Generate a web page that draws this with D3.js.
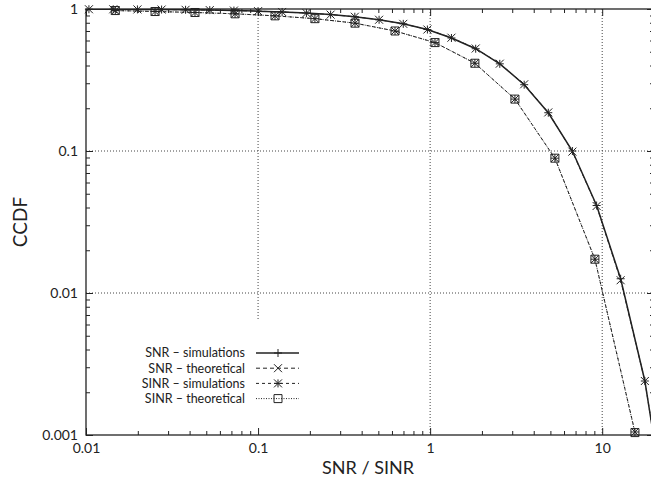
<!DOCTYPE html>
<html lang="en">
  <head>
    <meta charset="UTF-8" />
    <title>CCDF of SNR / SINR</title>
    <script src="https://d3js.org/d3.v7.min.js"></script>
    <style>
      body { margin: 0; background: #fff; }
      text { font-family: Lato, "Noto Sans", sans-serif; fill: #222; }
    </style>
  </head>
  <body>
    <svg id="chart" width="651" height="482"></svg>

    <script>
      // Data
      const snrX = [0.0104, 0.0144, 0.0199, 0.0275, 0.0379, 0.0524, 0.0724, 0.1, 0.138, 0.191,
        0.264, 0.365, 0.505, 0.698, 0.964, 1.33, 1.84, 2.54, 3.52, 4.86, 6.71, 9.28, 12.8, 17.7, 24.5];
      const snrSim = [0.996, 0.995, 0.993, 0.991, 0.987, 0.982, 0.975, 0.966, 0.953, 0.936,
        0.913, 0.882, 0.84, 0.786, 0.717, 0.625, 0.525, 0.411, 0.293, 0.186, 0.1, 0.0413, 0.0126, 0.0024, 0.0002];
      const snrTheo = [0.996, 0.995, 0.993, 0.991, 0.987, 0.982, 0.975, 0.966, 0.953, 0.936,
        0.913, 0.882, 0.84, 0.786, 0.717, 0.628, 0.527, 0.412, 0.295, 0.187, 0.099, 0.041, 0.0123, 0.0024, 0.0002];

      const sinrX = [0.0148, 0.0252, 0.043, 0.0735, 0.1255, 0.214, 0.366, 0.625, 1.067, 1.82, 3.11, 5.31, 9.07, 15.5];
      const sinrSim = [0.975, 0.96, 0.945, 0.925, 0.895, 0.855, 0.795, 0.7, 0.58, 0.415, 0.232, 0.089, 0.0173, 0.00105];
      const sinrTheo = [0.975, 0.96, 0.945, 0.925, 0.895, 0.855, 0.795, 0.7, 0.58, 0.415, 0.232, 0.089, 0.0173, 0.00104];

      const xTicks = [0.01, 0.1, 1, 10];
      const yTicks = [0.001, 0.01, 0.1, 1];

      const series = [
        { name: "SNR \u2013 simulations", xs: snrX, ys: snrSim, dash: null, width: 1.5, mark: "plus" },
        { name: "SNR \u2013 theoretical", xs: snrX, ys: snrTheo, dash: "4,3", width: 1, mark: "cross" },
        { name: "SINR \u2013 simulations", xs: sinrX, ys: sinrSim, dash: "3,3", width: 1, mark: "star" },
        { name: "SINR \u2013 theoretical", xs: sinrX, ys: sinrTheo, dash: "1,1.5", width: 1, mark: "box" },
      ];

      // Layout
      const pLeft = 86, pRight = 654, pTop = 9, pBottom = 435;

      const svg = d3.select("#chart");

      const x = d3.scaleLog().domain([0.01, 20]).range([pLeft, pRight]);
      const y = d3.scaleLog().domain([0.001, 1]).range([pBottom, pTop]);

      // minor tick values
      const minorX = [];
      [0.01, 0.1, 1, 10].forEach((d) => {
        for (let i = 2; i <= 9; i++) if (d * i <= 20) minorX.push(d * i);
      });
      const minorY = [];
      [0.001, 0.01, 0.1].forEach((d) => {
        for (let i = 2; i <= 9; i++) minorY.push(d * i);
      });

      svg.append("defs").append("clipPath").attr("id", "plotclip")
        .append("rect")
        .attr("x", pLeft).attr("y", pTop)
        .attr("width", pRight - pLeft).attr("height", pBottom - pTop);

      // Grid
      const grid = svg.append("g")
        .attr("stroke", "#444")
        .attr("stroke-width", 1)
        .attr("stroke-dasharray", "1,2");
      grid.selectAll(".gx")
        .data([0.1, 1, 10])
        .enter()
        .append("line")
        .attr("x1", (d) => x(d)).attr("x2", (d) => x(d))
        .attr("y1", pTop).attr("y2", pBottom);
      grid.selectAll(".gy")
        .data([0.01, 0.1])
        .enter()
        .append("line")
        .attr("x1", pLeft).attr("x2", pRight)
        .attr("y1", (d) => y(d)).attr("y2", (d) => y(d));

      // Legend background (opaque key)
      svg.append("rect")
        .attr("x", 95).attr("y", 320)
        .attr("width", 215).attr("height", 113)
        .attr("fill", "#fff");

      // Axes (ticks inward)
      const fmt = d3.format("~g");
      function noDomain(g) { g.select(".domain").remove(); g.selectAll("line").attr("stroke", "#222"); }

      svg.append("g").attr("transform", `translate(0,${pBottom})`)
        .call(d3.axisBottom(x).tickValues(xTicks).tickSizeInner(-7).tickSizeOuter(0).tickPadding(8).tickFormat(fmt))
        .call(noDomain)
        .selectAll("text").style("font-size", "14px").attr("fill", "#222");
      svg.append("g").attr("transform", `translate(0,${pBottom})`)
        .call(d3.axisBottom(x).tickValues(minorX).tickSizeInner(-4).tickSizeOuter(0).tickFormat(""))
        .call(noDomain);
      svg.append("g").attr("transform", `translate(0,${pTop})`)
        .call(d3.axisTop(x).tickValues(xTicks).tickSizeInner(-7).tickSizeOuter(0).tickFormat(""))
        .call(noDomain);
      svg.append("g").attr("transform", `translate(0,${pTop})`)
        .call(d3.axisTop(x).tickValues(minorX).tickSizeInner(-4).tickSizeOuter(0).tickFormat(""))
        .call(noDomain);

      svg.append("g").attr("transform", `translate(${pLeft},0)`)
        .call(d3.axisLeft(y).tickValues(yTicks).tickSizeInner(-7).tickSizeOuter(0).tickPadding(8).tickFormat(fmt))
        .call(noDomain)
        .selectAll("text").style("font-size", "14px").attr("fill", "#222");
      svg.append("g").attr("transform", `translate(${pLeft},0)`)
        .call(d3.axisLeft(y).tickValues(minorY).tickSizeInner(-4).tickSizeOuter(0).tickFormat(""))
        .call(noDomain);
      svg.append("g").attr("transform", `translate(${pRight},0)`)
        .call(d3.axisRight(y).tickValues(yTicks).tickSizeInner(-7).tickSizeOuter(0).tickFormat(""))
        .call(noDomain);
      svg.append("g").attr("transform", `translate(${pRight},0)`)
        .call(d3.axisRight(y).tickValues(minorY).tickSizeInner(-4).tickSizeOuter(0).tickFormat(""))
        .call(noDomain);

      // Border
      svg.append("rect")
        .attr("x", pLeft).attr("y", pTop)
        .attr("width", pRight - pLeft).attr("height", pBottom - pTop)
        .attr("fill", "none").attr("stroke", "#222").attr("stroke-width", 1.3);

      // Axis titles
      svg.append("text")
        .attr("x", (pLeft + pRight) / 2 - 2).attr("y", 474)
        .attr("text-anchor", "middle")
        .style("font-size", "18px")
        .text("SNR / SINR");
      svg.append("text")
        .attr("transform", `translate(20,${(pTop + pBottom) / 2}) rotate(-90)`)
        .attr("text-anchor", "middle")
        .attr("dy", "0.35em")
        .style("font-size", "19px")
        .text("CCDF");

      // Marker shapes
      function drawMark(g, kind, cx, cy) {
        const r = 4;
        const p = d3.path();
        if (kind === "plus" || kind === "star") {
          p.moveTo(cx - r, cy); p.lineTo(cx + r, cy);
          p.moveTo(cx, cy - r); p.lineTo(cx, cy + r);
        }
        if (kind === "cross" || kind === "star") {
          p.moveTo(cx - r, cy - r); p.lineTo(cx + r, cy + r);
          p.moveTo(cx - r, cy + r); p.lineTo(cx + r, cy - r);
        }
        if (kind === "box") {
          p.rect(cx - r, cy - r, 2 * r, 2 * r);
        }
        g.append("path").attr("d", p.toString())
          .attr("fill", "none").attr("stroke", "#222").attr("stroke-width", 1);
      }

      const line = d3.line().x((d) => x(d[0])).y((d) => y(d[1]));

      const plot = svg.append("g");
      series.forEach((s) => {
        const pts = s.xs.map((v, i) => [v, s.ys[i]]);
        plot.append("path")
          .datum(pts)
          .attr("clip-path", "url(#plotclip)")
          .attr("d", line)
          .attr("fill", "none")
          .attr("stroke", "#222")
          .attr("stroke-width", s.width)
          .attr("stroke-dasharray", s.dash);
        const mg = plot.append("g");
        pts.filter((d) => d[0] <= 20 && d[1] >= 0.001)
          .forEach((d) => drawMark(mg, s.mark, x(d[0]), y(d[1])));
      });

      // Legend
      const legend = svg.append("g");
      series.forEach((s, i) => {
        const ly = 353 + i * 15.2;
        legend.append("text")
          .attr("x", 245).attr("y", ly).attr("dy", "0.35em")
          .attr("text-anchor", "end")
          .style("font-size", "12.5px")
          .text(s.name);
        legend.append("line")
          .attr("x1", 256).attr("x2", 299)
          .attr("y1", ly).attr("y2", ly)
          .attr("stroke", "#222")
          .attr("stroke-width", s.width)
          .attr("stroke-dasharray", s.dash);
        drawMark(legend, s.mark, 278, ly);
      });
    </script>
  </body>
</html>
